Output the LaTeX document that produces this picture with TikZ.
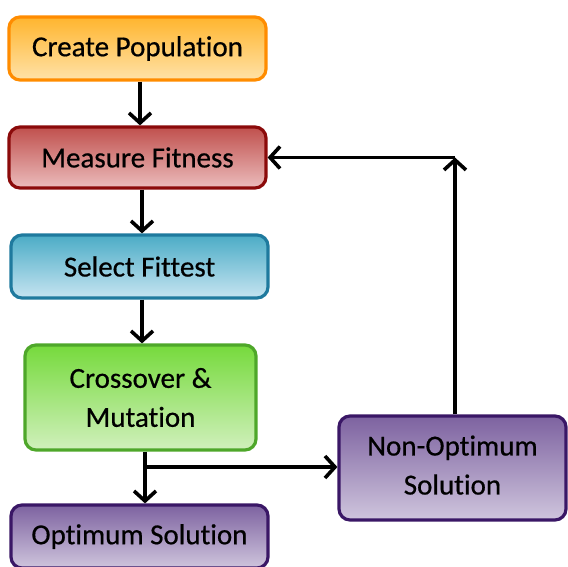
\documentclass[tikz,border=0pt]{standalone}
\usepackage{fontspec}
\setmainfont{Carlito}[Ligatures=NoCommon]
\newfontfamily\boxfont{Carlito}[Ligatures=NoCommon,FakeBold=0.6]
\usetikzlibrary{arrows.meta}
\definecolor{orB}{HTML}{FF8C00}\definecolor{orT}{HTML}{FFB52E}\definecolor{orL}{HTML}{FFE2A8}
\definecolor{rdB}{HTML}{8B0A0A}\definecolor{rdT}{HTML}{C0504D}\definecolor{rdL}{HTML}{EBBCBC}
\definecolor{blB}{HTML}{1F7A9E}\definecolor{blT}{HTML}{4BACC6}\definecolor{blL}{HTML}{C6E4F1}
\definecolor{gnB}{HTML}{4EA72A}\definecolor{gnT}{HTML}{76DA3C}\definecolor{gnL}{HTML}{D0F0BC}
\definecolor{puB}{HTML}{3A1766}\definecolor{puT}{HTML}{7D62A0}\definecolor{puL}{HTML}{CFC5DD}
\tikzset{
  box/.style={draw, line width=3.2pt, rounded corners=11pt, align=center, inner sep=0pt,
    font=\boxfont\fontsize{29}{39}\selectfont, text=black, shading=axis, shading angle=0},
  arr/.style={line width=3.6pt, -{Straight Barb[length=10pt,width=22pt,line width=3.6pt]}},
  ln/.style={line width=3.6pt}
}
\begin{document}
\begin{tikzpicture}[x=1pt,y=-1pt]
\useasboundingbox (0,0) rectangle (568,566);
\node[box, draw=orB, top color=orT, bottom color=orL, minimum width=257, minimum height=63] (cp) at (137.5,48.5) {Create Population};
\node[box, draw=rdB, top color=rdT, bottom color=rdL, minimum width=257, minimum height=61] (mf) at (137.5,157.5) {Measure Fitness};
\node[box, draw=blB, top color=blT, bottom color=blL, minimum width=257, minimum height=63] (sf) at (139.5,266.5) {Select Fittest};
\node[box, draw=gnB, top color=gnT, bottom color=gnL, minimum width=231, minimum height=105] (cm) at (140.5,397.5) {Crossover \&\\Mutation};
\node[box, draw=puB, top color=puT, bottom color=puL, minimum width=257, minimum height=63] (os) at (139.5,536.5) {Optimum Solution};
\node[box, draw=puB, top color=puT, bottom color=puL, minimum width=227, minimum height=104] (no) at (452.5,468) {Non-Optimum\\Solution\\[-33pt]\mbox{}};
\coordinate (br) at (145,467);
\coordinate (tp) at (455,157.5);
\draw[arr] ([xshift=2.5pt]cp.south) -- ([xshift=2.5pt]mf.north);
\draw[arr] ([xshift=4.5pt]mf.south) -- ([xshift=2.5pt]sf.north);
\draw[arr] ([xshift=2.5pt]sf.south) -- ([xshift=1.5pt]cm.north);
\draw[ln] (cm.south -| br) -- (br);
\draw[arr] (br) -- (os.north -| br);
\draw[arr] (br) -- (no.west |- br);
\draw[arr] (no.north -| tp) -- (tp);
\draw[arr] (tp) -- (mf.east);
\end{tikzpicture}
\end{document}
